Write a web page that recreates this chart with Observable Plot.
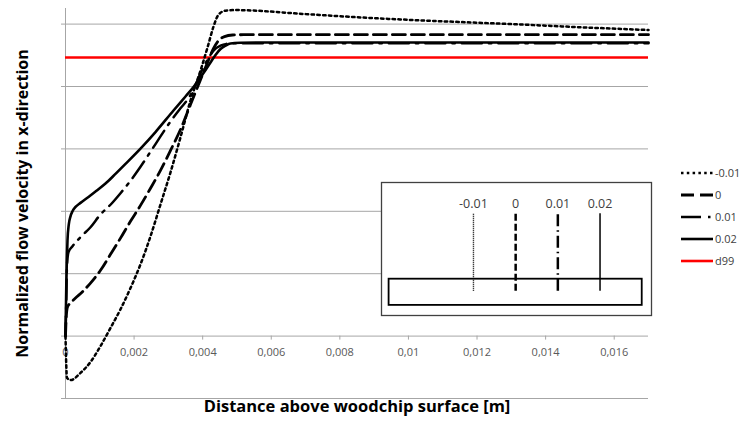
<!DOCTYPE html>
<html><head><meta charset="utf-8">
<script src="https://cdn.jsdelivr.net/npm/d3@7"></script>
<script src="https://cdn.jsdelivr.net/npm/@observablehq/plot@0.6"></script>
<style>
body{margin:0;background:#fff}
#chart{position:relative;width:740px;height:425px;font-family:"Open Sans",sans-serif}
#chart > *{position:absolute}
</style>
</head><body><div id="chart"></div>
<script>
// ---- data ----
const seriesNames = ["-0.01", "0", "0.01", "0.02"];
const xSeriesM001 = [0, 0.0000437, 0.000146, 0.000437, 0.000729, 0.001021, 0.001312, 0.001604, 0.001895, 0.002187, 0.002479, 0.00277, 0.003062, 0.003353, 0.003645, 0.003937, 0.004141, 0.004316, 0.004461, 0.004666, 0.004957, 0.007, 0.009, 0.011, 0.013, 0.015, 0.017];
const ySeriesM001 = [0, -0.134, -0.141, -0.118, -0.083, -0.032, 0.026, 0.086, 0.154, 0.230, 0.320, 0.422, 0.525, 0.637, 0.755, 0.851, 0.925, 0.992, 1.030, 1.043, 1.045, 1.032, 1.019, 1.009, 1.000, 0.990, 0.981];
const xSeries0 = [0, 0.0000204, 0.0000583, 0.000146, 0.000292, 0.000496, 0.000729, 0.001021, 0.001312, 0.001604, 0.001895, 0.002187, 0.002479, 0.00277, 0.003062, 0.003353, 0.003645, 0.003937, 0.004141, 0.004316, 0.004461, 0.004636, 0.00487, 0.005249, 0.017];
const ySeries0 = [0, 0.058, 0.093, 0.106, 0.122, 0.142, 0.170, 0.211, 0.262, 0.314, 0.368, 0.419, 0.474, 0.531, 0.595, 0.662, 0.742, 0.822, 0.877, 0.922, 0.947, 0.960, 0.965, 0.966, 0.966];
const xSeries001 = [0, 0.0000233, 0.0000437, 0.0000875, 0.000204, 0.000437, 0.000729, 0.001021, 0.001312, 0.001604, 0.001895, 0.002187, 0.002479, 0.00277, 0.003062, 0.003353, 0.003558, 0.003732, 0.003937, 0.004141, 0.004316, 0.00452, 0.004811, 0.005249, 0.017];
const ySeries001 = [0, 0.115, 0.227, 0.269, 0.288, 0.317, 0.349, 0.390, 0.421, 0.458, 0.498, 0.543, 0.591, 0.640, 0.688, 0.730, 0.758, 0.790, 0.842, 0.886, 0.915, 0.931, 0.938, 0.939, 0.939];
const xSeries002 = [0, 0.0000117, 0.0000233, 0.0000379, 0.0000583, 0.0000962, 0.000146, 0.000204, 0.000292, 0.000437, 0.000671, 0.000904, 0.001166, 0.001458, 0.00175, 0.002187, 0.002624, 0.003149, 0.003499, 0.003732, 0.004024, 0.004228, 0.004374, 0.00452, 0.004666, 0.004811, 0.005103, 0.005686, 0.017];
const ySeries002 = [0, 0.083, 0.163, 0.237, 0.307, 0.358, 0.384, 0.400, 0.414, 0.427, 0.446, 0.466, 0.489, 0.520, 0.552, 0.601, 0.654, 0.723, 0.768, 0.798, 0.843, 0.877, 0.901, 0.920, 0.931, 0.938, 0.940, 0.941, 0.941];
const d99Value = 0.893;
const d99Name = "d99";
const xTicks = [0, 0.002, 0.004, 0.006, 0.008, 0.01, 0.012, 0.014, 0.016];
const xTickLabels = ["0", "0,002", "0,004", "0,006", "0,008", "0,01", "0,012", "0,014", "0,016"];
const yGrid = [0, 0.2, 0.4, 0.6, 0.8, 1.0];
const xTitle = "Distance above woodchip surface [m]";
const yTitle = "Normalized flow velocity in x-direction";
// inset schematic: measurement offsets
const insetOffsets = [-0.01, 0, 0.01, 0.02];
const insetLabels = ["-0.01", "0", "0.01", "0.02"];

// ---- styles ----
const styles = [
  {stroke: "#000", strokeWidth: 2.5, strokeDasharray: "2.5,3.3"},
  {stroke: "#000", strokeWidth: 2.8, strokeDasharray: "13,6"},
  {stroke: "#000", strokeWidth: 2.5, strokeDasharray: "20,7,2.5,7"},
  {stroke: "#000", strokeWidth: 2.6, strokeDasharray: null}
];
const insetStyles = [
  {strokeWidth: 1.4, strokeDasharray: "1,1"},
  {strokeWidth: 2.5, strokeDasharray: "7,3"},
  {strokeWidth: 2.5, strokeDasharray: "12,4,1.5,4"},
  {strokeWidth: 1.5, strokeDasharray: null}
];

const xs = [xSeriesM001, xSeries0, xSeries001, xSeries002];
const ys = [ySeriesM001, ySeries0, ySeries001, ySeries002];
const seriesData = xs.map((xa, k) => xa.map((x, i) => ({x, y: ys[k][i], s: seriesNames[k]})));

const grid = "#a6a6a6";
const font = "'Open Sans', sans-serif";
const root = document.getElementById("chart");

const main = Plot.plot({
  width: 740, height: 425,
  marginLeft: 65, marginRight: 92, marginTop: 8, marginBottom: 27,
  x: {domain: [0, 0.017], axis: null},
  y: {domain: [-0.2, 1.05], axis: null},
  style: {fontFamily: font, background: "white"},
  marks: [
    Plot.ruleY(yGrid, {stroke: grid, strokeWidth: 1, insetLeft: -4}),
    Plot.ruleY([-0.2], {stroke: grid, strokeWidth: 1, insetLeft: -4}),
    Plot.ruleX([0], {stroke: grid, strokeWidth: 1}),
    Plot.ruleX(xTicks, {x: d => d, y1: 0, y2: 0, insetBottom: -4, stroke: grid}),
    Plot.text(xTicks, {x: d => d, y: 0, dy: 16, text: (d, i) => xTickLabels[i], fill: "#595959", fontSize: 11}),
    Plot.ruleY([d99Value], {stroke: "#ff0000", strokeWidth: 2.6}),
    ...seriesData.map((data, k) => Plot.line(data, {x: "x", y: "y", curve: "monotone-x", ...styles[k]})),
    Plot.text([xTitle], {frameAnchor: "bottom", dy: 13, fontWeight: "bold", fontSize: 16.5, fill: "#000"}),
    Plot.text([yTitle], {frameAnchor: "left", textAnchor: "middle", dx: -43, rotate: -90, fontWeight: "bold", fontSize: 16, fill: "#000"})
  ]
});
main.style.left = "0px"; main.style.top = "0px";
root.appendChild(main);

// ---- inset schematic ----
const inset = Plot.plot({
  width: 272, height: 135,
  marginLeft: 1, marginRight: 1, marginTop: 1, marginBottom: 1,
  x: {domain: [-0.0318, 0.0322], axis: null},
  y: {domain: [0, 1], axis: null},
  style: {fontFamily: font, background: "transparent", overflow: "visible"},
  marks: [
    Plot.frame({fill: "white", stroke: "#404040", strokeWidth: 1.3}),
    Plot.rect([0], {x1: -0.03, x2: 0.03, y1: 0.076, y2: 0.273, stroke: "#000", strokeWidth: 1.8, fill: "none"}),
    ...insetOffsets.map((o, k) => Plot.ruleX([o], {y1: 0.182, y2: 0.765, stroke: "#000", ...insetStyles[k]})),
    Plot.text(insetOffsets, {x: d => d, y: 0.841, text: (d, i) => insetLabels[i], fill: "#404040", fontSize: 12.5})
  ]
});
inset.style.left = "380px"; inset.style.top = "181px";
root.appendChild(inset);

// ---- legend ----
const legendItems = seriesNames.map((n, k) => ({name: n, ...styles[k]})).concat([{name: d99Name, stroke: "#ff0000", strokeWidth: 2.6, strokeDasharray: null}]);
const leg = d3.select(root).append("svg").attr("width", 70).attr("height", 120)
  .style("left", "675px").style("top", "160px");
const g = leg.selectAll("g").data(legendItems).join("g")
  .attr("transform", (d, i) => `translate(0,${13 + i * 22})`);
g.append("line").attr("x1", 6).attr("x2", 38).attr("y1", 0).attr("y2", 0)
  .attr("stroke", d => d.stroke).attr("stroke-width", d => d.strokeWidth)
  .attr("stroke-dasharray", d => d.strokeDasharray);
g.append("text").attr("x", 40).attr("y", 0).attr("dy", "0.35em")
  .attr("font-size", 11).attr("fill", "#404040")
  .attr("font-family", font).text(d => d.name);
</script>
</body></html>
